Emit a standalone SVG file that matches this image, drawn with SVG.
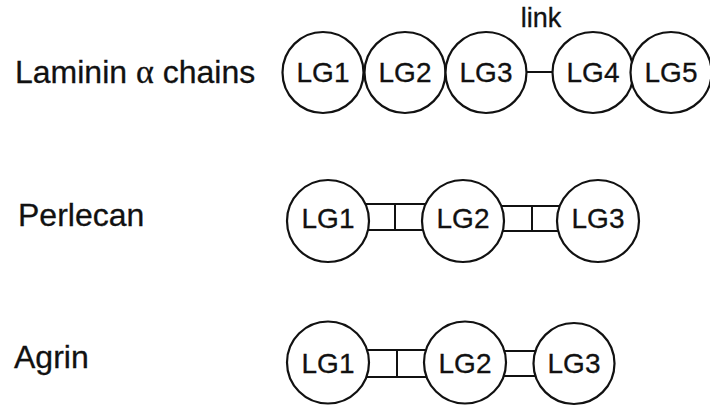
<svg xmlns="http://www.w3.org/2000/svg" width="710" height="407" viewBox="0 0 710 407">
<style>
.n{fill:#fff;stroke:#111;stroke-width:2.2}
.c{stroke:#111;stroke-width:2;fill:none}
.t{font-family:"Liberation Sans",Arial,sans-serif;font-size:28px;fill:#111;stroke:#111;stroke-width:0.3;text-anchor:middle}
.lab{font-family:"Liberation Sans",Arial,sans-serif;font-size:32px;fill:#111;stroke:#111;stroke-width:0.3}
.g{font-family:"Liberation Serif","Times New Roman",serif;font-size:34px}
</style>
<rect width="710" height="407" fill="#fff"/>
<text class="lab" x="15" y="83">Laminin <tspan class="g">α</tspan> chains</text>
<text class="lab" x="18" y="226">Perlecan</text>
<text class="lab" x="14" y="368">Agrin</text>
<text class="lab" x="541" y="27" style="font-size:27px;text-anchor:middle">link</text>
<g id="connectors">
<line class="c" x1="486" y1="72" x2="593" y2="72"/>
<path class="c" d="M328 204H463M328 230H463M395 204V230"/>
<path class="c" d="M463 206H598M463 231H598M532 206V231"/>
<path class="c" d="M328 350H465M328 377H465M397 350V377"/>
<path class="c" d="M465 351H574M465 376H574"/>
</g>
<g id="lam-lg1"><circle class="n" cx="323" cy="72.5" r="40.5"/><text class="t" x="323" y="82">LG1</text></g>
<g id="lam-lg2"><circle class="n" cx="405" cy="72.5" r="40.5"/><text class="t" x="405" y="82">LG2</text></g>
<g id="lam-lg3"><circle class="n" cx="486" cy="72.5" r="40.5"/><text class="t" x="486" y="82">LG3</text></g>
<g id="lam-lg4"><circle class="n" cx="593" cy="72.5" r="40.5"/><text class="t" x="593" y="82">LG4</text></g>
<g id="lam-lg5"><circle class="n" cx="671" cy="72.5" r="40.5"/><text class="t" x="671" y="82">LG5</text></g>
<g id="per-lg1"><circle class="n" cx="328" cy="221" r="41"/><text class="t" x="328" y="228">LG1</text></g>
<g id="per-lg2"><circle class="n" cx="463" cy="221" r="41"/><text class="t" x="463" y="228">LG2</text></g>
<g id="per-lg3"><circle class="n" cx="598" cy="221" r="41"/><text class="t" x="598" y="228">LG3</text></g>
<g id="agr-lg1"><circle class="n" cx="328" cy="362.5" r="41"/><text class="t" x="328" y="373">LG1</text></g>
<g id="agr-lg2"><circle class="n" cx="465" cy="362.5" r="41"/><text class="t" x="465" y="373">LG2</text></g>
<g id="agr-lg3"><circle class="n" cx="574" cy="363.5" r="40.5"/><text class="t" x="574" y="373">LG3</text></g>
</svg>
